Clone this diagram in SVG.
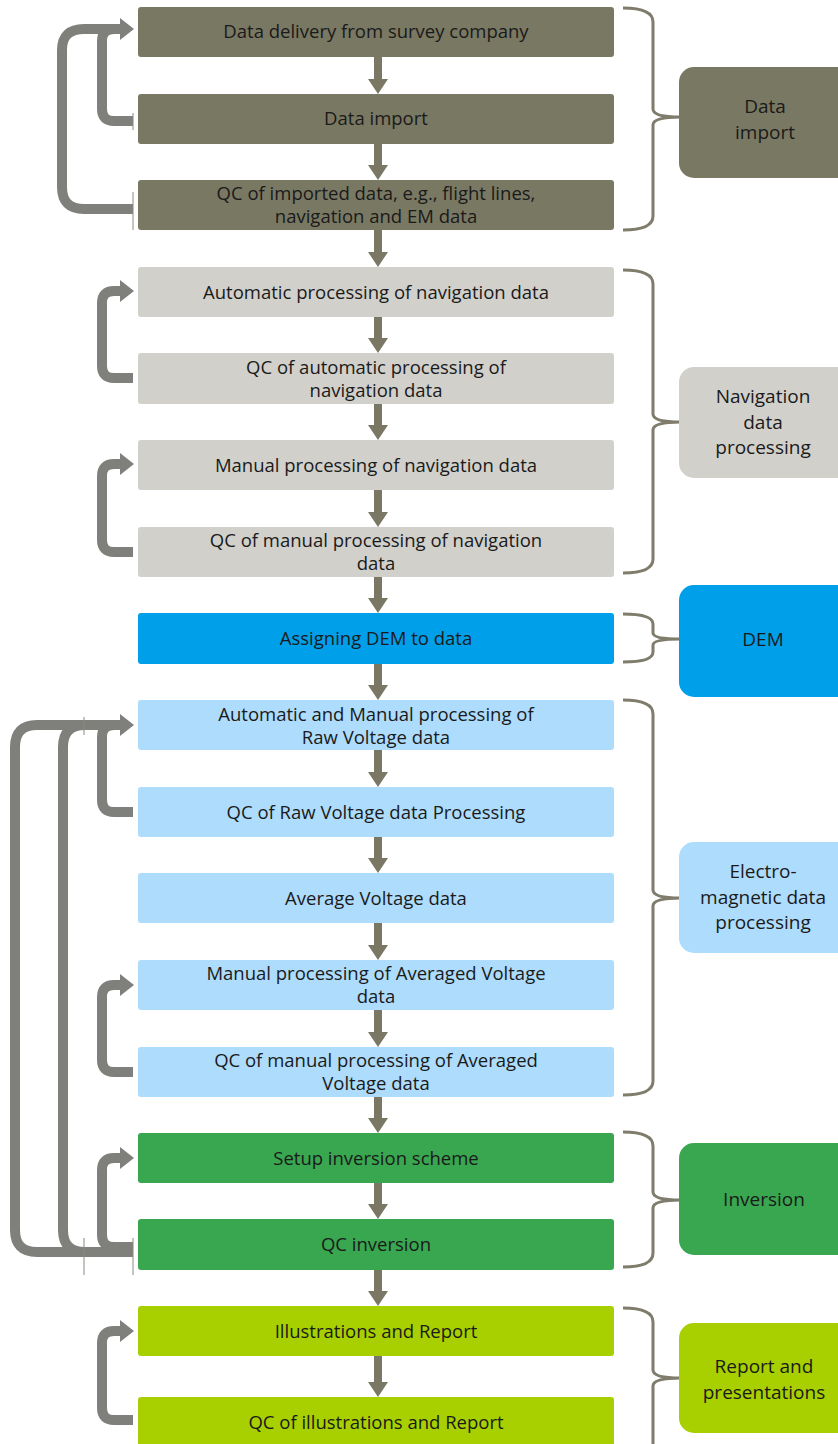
<svg xmlns="http://www.w3.org/2000/svg" width="838" height="1444" viewBox="0 0 838 1444">
<style>
.box{stroke:none}
.t{font-family:"Open Sans","Noto Sans","DejaVu Sans",sans-serif;font-size:18.5px;fill:#1a1a1a;text-anchor:middle}
.s{font-family:"Open Sans","Noto Sans","DejaVu Sans",sans-serif;font-size:19px;fill:#1a1a1a;text-anchor:middle}
.imp{fill:#797863}
.nav{fill:#d1d0cb}
.dem{fill:#009fe9}
.em{fill:#aedcfc}
.inv{fill:#39a650}
.rep{fill:#a8d000}
.br{fill:none;stroke:#7f7c6c;stroke-width:3}
.va{fill:#7a7865}
.loop{fill:none;stroke:#7f7f7b;stroke-width:10}
.lh{fill:#7f7f7b}
.tick{stroke:#8a8a80;stroke-width:1}
</style>
<rect width="838" height="1444" fill="#ffffff"/>
<g id="connectors">
  <g class="va">
    <rect x="374" y="57" width="8" height="22"/><polygon points="368,79 388,79 378,94"/>
    <rect x="374" y="144" width="8" height="21"/><polygon points="368,165 388,165 378,180"/>
    <rect x="374" y="230" width="8" height="22"/><polygon points="368,252 388,252 378,267"/>
    <rect x="374" y="317" width="8" height="21"/><polygon points="368,338 388,338 378,353"/>
    <rect x="374" y="404" width="8" height="21"/><polygon points="368,425 388,425 378,440"/>
    <rect x="374" y="490" width="8" height="22"/><polygon points="368,512 388,512 378,527"/>
    <rect x="374" y="577" width="8" height="21"/><polygon points="368,598 388,598 378,613"/>
    <rect x="374" y="664" width="8" height="21"/><polygon points="368,685 388,685 378,700"/>
    <rect x="374" y="750" width="8" height="22"/><polygon points="368,772 388,772 378,787"/>
    <rect x="374" y="837" width="8" height="21"/><polygon points="368,858 388,858 378,873"/>
    <rect x="374" y="923" width="8" height="22"/><polygon points="368,945 388,945 378,960"/>
    <rect x="374" y="1010" width="8" height="22"/><polygon points="368,1032 388,1032 378,1047"/>
    <rect x="374" y="1097" width="8" height="21"/><polygon points="368,1118 388,1118 378,1133"/>
    <rect x="374" y="1183" width="8" height="21"/><polygon points="368,1204 388,1204 378,1219"/>
    <rect x="374" y="1270" width="8" height="21"/><polygon points="368,1291 388,1291 378,1306"/>
    <rect x="374" y="1356" width="8" height="26"/><polygon points="368,1382 388,1382 378,1397"/>
  </g>
  <path class="loop" d="M133,209 L84,209 Q62,209 62,187 L62,50 Q62,29 84,29 L122,29"/>
  <path class="loop" d="M133,121 L114,121 Q102,121 102,109 L102,41 Q102,29 114,29"/>
  <polygon class="lh" points="120,18 134,29 120,40"/>
  <path class="loop" d="M133,378 L114,378 Q102,378 102,366 L102,303 Q102,291 114,291 L122,291"/>
  <polygon class="lh" points="120,280 134,291 120,302"/>
  <path class="loop" d="M133,552 L114,552 Q102,552 102,540 L102,476 Q102,464 114,464 L122,464"/>
  <polygon class="lh" points="120,453 134,464 120,475"/>
  <path class="loop" d="M133,1252 L37,1252 Q15,1252 15,1230 L15,747 Q15,725 37,725 L122,725"/>
  <path class="loop" d="M133,1252 L85,1252 Q63,1252 63,1230 L63,747 Q63,725 85,725"/>
  <path class="loop" d="M133,812 L114,812 Q102,812 102,800 L102,737 Q102,725 114,725"/>
  <polygon class="lh" points="120,714 134,725 120,736"/>
  <path class="loop" d="M133,1072 L114,1072 Q102,1072 102,1060 L102,997 Q102,985 114,985 L122,985"/>
  <polygon class="lh" points="120,974 134,985 120,996"/>
  <path class="loop" d="M133,1247 L114,1247 Q102,1247 102,1235 L102,1170 Q102,1158 114,1158 L122,1158"/>
  <polygon class="lh" points="120,1147 134,1158 120,1169"/>
  <path class="loop" d="M133,1420 L114,1420 Q102,1420 102,1408 L102,1343 Q102,1331 114,1331 L122,1331"/>
  <polygon class="lh" points="120,1320 134,1331 120,1342"/>
  <line class="tick" x1="133" y1="113" x2="133" y2="130"/>
  <line class="tick" x1="133" y1="192" x2="133" y2="230"/>
  <line class="tick" x1="84" y1="717" x2="84" y2="735"/>
  <line class="tick" x1="84" y1="1238" x2="84" y2="1275"/>
  <line class="tick" x1="133" y1="1238" x2="133" y2="1275"/>
  <path class="br" d="M623,8 Q653,8 653,22 L653,109 Q653,117 680,117 Q653,117 653,125 L653,216 Q653,230 623,230"/>
  <path class="br" d="M623,270 Q653,270 653,284 L653,414 Q653,422 680,422 Q653,422 653,430 L653,559 Q653,573 623,573"/>
  <path class="br" d="M623,614 Q653,614 653,624 L653,633 Q653,639 680,639 Q653,639 653,645 L653,652 Q653,662 623,662"/>
  <path class="br" d="M623,700 Q653,700 653,714 L653,890 Q653,898 680,898 Q653,898 653,906 L653,1081 Q653,1095 623,1095"/>
  <path class="br" d="M623,1132 Q653,1132 653,1146 L653,1192 Q653,1200 680,1200 Q653,1200 653,1208 L653,1253 Q653,1267 623,1267"/>
  <path class="br" d="M623,1308 Q653,1308 653,1322 L653,1370 Q653,1378 680,1378 Q653,1378 653,1386 L653,1450"/>
</g>
<g id="n1"><rect class="imp" x="138" y="7" width="476" height="50" rx="3"/><text class="t" x="376" y="38">Data delivery from survey company</text></g>
<g id="n2"><rect class="imp" x="138" y="94" width="476" height="50" rx="3"/><text class="t" x="376" y="125">Data import</text></g>
<g id="n3"><rect class="imp" x="138" y="180" width="476" height="50" rx="3"/><text class="t" x="376" y="200">QC of imported data, e.g., flight lines,</text><text class="t" x="376" y="223">navigation and EM data</text></g>
<g id="n4"><rect class="nav" x="138" y="267" width="476" height="50" rx="3"/><text class="t" x="376" y="299">Automatic processing of navigation data</text></g>
<g id="n5"><rect class="nav" x="138" y="353" width="476" height="51" rx="3"/><text class="t" x="376" y="374">QC of automatic processing of</text><text class="t" x="376" y="397">navigation data</text></g>
<g id="n6"><rect class="nav" x="138" y="440" width="476" height="50" rx="3"/><text class="t" x="376" y="472">Manual processing of navigation data</text></g>
<g id="n7"><rect class="nav" x="138" y="527" width="476" height="50" rx="3"/><text class="t" x="376" y="547">QC of manual processing of navigation</text><text class="t" x="376" y="570">data</text></g>
<g id="n8"><rect class="dem" x="138" y="613" width="476" height="51" rx="3"/><text class="t" x="376" y="645">Assigning DEM to data</text></g>
<g id="n9"><rect class="em" x="138" y="700" width="476" height="50" rx="3"/><text class="t" x="376" y="721">Automatic and Manual processing of</text><text class="t" x="376" y="744">Raw Voltage data</text></g>
<g id="n10"><rect class="em" x="138" y="787" width="476" height="50" rx="3"/><text class="t" x="376" y="819">QC of Raw Voltage data Processing</text></g>
<g id="n11"><rect class="em" x="138" y="873" width="476" height="50" rx="3"/><text class="t" x="376" y="905">Average Voltage data</text></g>
<g id="n12"><rect class="em" x="138" y="960" width="476" height="50" rx="3"/><text class="t" x="376" y="980">Manual processing of Averaged Voltage</text><text class="t" x="376" y="1003">data</text></g>
<g id="n13"><rect class="em" x="138" y="1047" width="476" height="50" rx="3"/><text class="t" x="376" y="1067">QC of manual processing of Averaged</text><text class="t" x="376" y="1090">Voltage data</text></g>
<g id="n14"><rect class="inv" x="138" y="1133" width="476" height="50" rx="3"/><text class="t" x="376" y="1165">Setup inversion scheme</text></g>
<g id="n15"><rect class="inv" x="138" y="1219" width="476" height="51" rx="3"/><text class="t" x="376" y="1251">QC inversion</text></g>
<g id="n16"><rect class="rep" x="138" y="1306" width="476" height="50" rx="3"/><text class="t" x="376" y="1338">Illustrations and Report</text></g>
<g id="n17"><rect class="rep" x="138" y="1397" width="476" height="52" rx="3"/><text class="t" x="376" y="1429">QC of illustrations and Report</text></g>
<g id="g-import"><rect class="imp" x="679" y="67" width="175" height="111" rx="15"/><text class="s" x="765" y="113">Data</text><text class="s" x="765" y="139">import</text></g>
<g id="g-nav"><rect class="nav" x="679" y="367" width="175" height="111" rx="15"/><text class="s" x="763" y="403">Navigation</text><text class="s" x="763" y="429">data</text><text class="s" x="763" y="454">processing</text></g>
<g id="g-dem"><rect class="dem" x="679" y="585" width="175" height="112" rx="15"/><text class="s" x="763" y="646">DEM</text></g>
<g id="g-em"><rect class="em" x="679" y="842" width="175" height="111" rx="15"/><text class="s" x="763" y="878">Electro-</text><text class="s" x="763" y="904">magnetic data</text><text class="s" x="763" y="929">processing</text></g>
<g id="g-inv"><rect class="inv" x="679" y="1143" width="175" height="112" rx="15"/><text class="s" x="764" y="1206">Inversion</text></g>
<g id="g-rep"><rect class="rep" x="679" y="1323" width="175" height="110" rx="15"/><text class="s" x="764" y="1373">Report and</text><text class="s" x="764" y="1399">presentations</text></g>
</svg>
